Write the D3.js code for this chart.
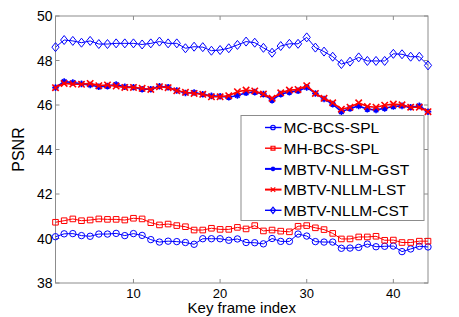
<!DOCTYPE html>
<html>
<head>
<meta charset="utf-8">
<script src="https://cdn.jsdelivr.net/npm/d3@7"></script>
<style>
  body { margin: 0; background: #fff; }
  text { font-family: "Liberation Sans", Arial, sans-serif; }
</style>
</head>
<body>
<div id="chart"></div>
<script>
const frames = d3.range(1, 45);

const mcBcsSpl = [40.08, 40.21, 40.22, 40.13, 40.1, 40.2, 40.2, 40.23, 40.13, 40.22, 40.14, 39.95, 39.84, 39.88, 39.86, 39.82, 39.74, 39.99, 39.99, 39.99, 39.92, 39.98,
  39.82, 39.81, 39.76, 40.0, 39.87, 39.87, 40.2, 40.11, 39.86, 39.84, 39.84, 39.56, 39.57, 39.6, 39.75, 39.63, 39.65, 39.66, 39.41, 39.53, 39.65, 39.62];
const mhBcsSpl = [40.73, 40.8, 40.88, 40.8, 40.83, 40.88, 40.86, 40.86, 40.83, 40.91, 40.88, 40.71, 40.61, 40.65, 40.58, 40.53, 40.38, 40.38, 40.46, 40.41, 40.41, 40.5,
  40.43, 40.58, 40.34, 40.38, 40.33, 40.3, 40.55, 40.58, 40.48, 40.4, 40.23, 39.98, 39.98, 40.07, 40.07, 40.1, 39.92, 39.93, 39.82, 39.82, 39.88, 39.88];
const gst = [46.78, 47.05, 47.01, 46.95, 46.9, 46.82, 46.85, 46.92, 46.82, 46.8, 46.71, 46.71, 46.84, 46.8, 46.65, 46.54, 46.56, 46.48, 46.41, 46.39, 46.35, 46.43,
  46.55, 46.58, 46.49, 46.22, 46.49, 46.58, 46.64, 46.79, 46.52, 46.27, 46.04, 45.7, 45.84, 45.96, 45.81, 45.78, 45.85, 45.93, 45.96, 45.9, 45.96, 45.7];
const lst = [46.78, 46.97, 46.94, 46.93, 46.97, 46.87, 46.9, 46.85, 46.79, 46.79, 46.75, 46.7, 46.82, 46.78, 46.64, 46.57, 46.52, 46.48, 46.37, 46.37, 46.42, 46.6,
  46.67, 46.63, 46.49, 46.3, 46.55, 46.67, 46.7, 46.87, 46.52, 46.3, 46.1, 45.81, 45.9, 46.1, 45.93, 45.9, 45.99, 46.04, 46.01, 45.9, 45.9, 45.7];
const cst = [48.6, 48.92, 48.88, 48.8, 48.88, 48.74, 48.74, 48.77, 48.77, 48.77, 48.72, 48.77, 48.85, 48.77, 48.77, 48.55, 48.62, 48.6, 48.44, 48.47, 48.55, 48.7,
  48.85, 48.8, 48.57, 48.35, 48.65, 48.75, 48.75, 49.04, 48.58, 48.4, 48.17, 47.84, 47.95, 48.14, 47.98, 47.98, 47.98, 48.3, 48.28, 48.17, 48.17, 47.78];

const seriesNames = ["MC-BCS-SPL", "MH-BCS-SPL", "MBTV-NLLM-GST", "MBTV-NLLM-LST", "MBTV-NLLM-CST"];
const seriesValues = [mcBcsSpl, mhBcsSpl, gst, lst, cst];
const xTicks = [10, 20, 30, 40];
const yTicks = [38, 40, 42, 44, 46, 48, 50];

const width = 459, height = 317;
const margin = { top: 16, right: 31, bottom: 34, left: 55.5 };

const styles = [
  { color: "#0000ff", marker: "circle", lw: 1 },
  { color: "#ff0000", marker: "square", lw: 1 },
  { color: "#0000ff", marker: "star", lw: 1.6 },
  { color: "#ff0000", marker: "x", lw: 1.6 },
  { color: "#0000ff", marker: "diamond", lw: 1 }
];

const svg = d3.select("#chart").append("svg")
  .attr("width", width)
  .attr("height", height);

const x = d3.scaleLinear().domain([1, 44]).range([margin.left, width - margin.right]);
const y = d3.scaleLinear().domain([38, 50]).range([height - margin.bottom, margin.top]);

const x0 = x.range()[0], x1 = x.range()[1], y0 = y.range()[0], y1 = y.range()[1];

// box
svg.append("rect")
  .attr("x", x0).attr("y", y1)
  .attr("width", x1 - x0).attr("height", y0 - y1)
  .attr("fill", "none").attr("stroke", "#8c8c8c").attr("stroke-width", 1);

// inward ticks on all four sides
const tl = 4;
svg.append("g").selectAll("line").data(xTicks).join("line")
  .attr("x1", d => x(d)).attr("x2", d => x(d)).attr("y1", y0).attr("y2", y0 - tl)
  .attr("stroke", "#8c8c8c");
svg.append("g").selectAll("line").data(xTicks).join("line")
  .attr("x1", d => x(d)).attr("x2", d => x(d)).attr("y1", y1).attr("y2", y1 + tl)
  .attr("stroke", "#8c8c8c");
svg.append("g").selectAll("line").data(yTicks).join("line")
  .attr("x1", x0).attr("x2", x0 + tl).attr("y1", d => y(d)).attr("y2", d => y(d))
  .attr("stroke", "#8c8c8c");
svg.append("g").selectAll("line").data(yTicks).join("line")
  .attr("x1", x1).attr("x2", x1 - tl).attr("y1", d => y(d)).attr("y2", d => y(d))
  .attr("stroke", "#8c8c8c");

svg.append("g").selectAll("text").data(xTicks).join("text")
  .attr("x", d => x(d)).attr("y", y0 + 14.5)
  .attr("text-anchor", "middle").attr("font-size", 13)
  .text(d => d);
svg.append("g").selectAll("text").data(yTicks).join("text")
  .attr("x", x0 - 3).attr("y", d => y(d) + 5)
  .attr("text-anchor", "end").attr("font-size", 14)
  .text(d => d);

svg.append("text")
  .attr("x", (x0 + x1) / 2).attr("y", 312.5)
  .attr("text-anchor", "middle").attr("font-size", 15)
  .text("Key frame index");
svg.append("text")
  .attr("transform", `translate(24,${(y0 + y1) / 2}) rotate(-90)`)
  .attr("text-anchor", "middle").attr("font-size", 16)
  .text("PSNR");

function markerPath(type, s) {
  switch (type) {
    case "circle": return d3.symbol(d3.symbolCircle, Math.PI * s * s)();
    case "square": return `M${-s},${-s}H${s}V${s}H${-s}Z`;
    case "diamond": return `M0,${-s * 1.25}L${s},0L0,${s * 1.25}L${-s},0Z`;
    case "x": return `M${-s},${-s}L${s},${s}M${-s},${s}L${s},${-s}`;
    case "star": {
      const d = s * 0.7;
      return `M0,${-s}V${s}M${-s},0H${s}M${-d},${-d}L${d},${d}M${-d},${d}L${d},${-d}`;
    }
  }
}
const markerSize = { circle: 3.2, square: 2.8, diamond: 3.6, x: 3.2, star: 3.3 };

const line = d3.line().x((d, i) => x(frames[i])).y(d => y(d));

seriesValues.forEach((vals, k) => {
  const st = styles[k];
  const g = svg.append("g");
  g.append("path").datum(vals)
    .attr("d", line)
    .attr("fill", "none").attr("stroke", st.color).attr("stroke-width", st.lw);
  g.selectAll("path.m").data(vals).join("path")
    .attr("class", "m")
    .attr("transform", (d, i) => `translate(${x(frames[i])},${y(d)})`)
    .attr("d", markerPath(st.marker, markerSize[st.marker]))
    .attr("fill", "none").attr("stroke", st.color)
    .attr("stroke-width", st.marker === "star" || st.marker === "x" ? 1.6 : 1);
});

// legend
const lg = svg.append("g");
lg.append("rect")
  .attr("x", 241).attr("y", 115.5).attr("width", 183).attr("height", 105)
  .attr("fill", "#fff").attr("stroke", "#8c8c8c");
seriesNames.forEach((name, k) => {
  const st = styles[k];
  const cy = 127.5 + k * 20.7;
  lg.append("line")
    .attr("x1", 265).attr("x2", 281.5).attr("y1", cy).attr("y2", cy)
    .attr("stroke", st.color).attr("stroke-width", st.lw + 0.4);
  lg.append("path")
    .attr("transform", `translate(273,${cy})`)
    .attr("d", markerPath(st.marker, markerSize[st.marker] * 0.7))
    .attr("fill", "none").attr("stroke", st.color).attr("stroke-width", 1.2);
  lg.append("text")
    .attr("x", 283.5).attr("y", cy + 5.6)
    .attr("font-size", 15.5)
    .text(name);
});
</script>
</body>
</html>
